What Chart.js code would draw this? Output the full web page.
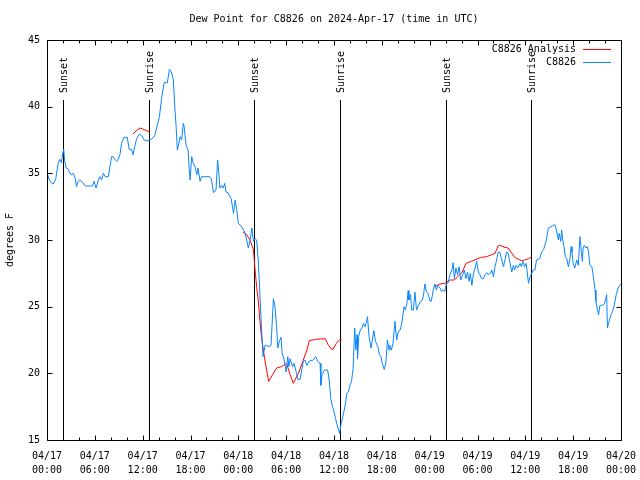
<!DOCTYPE html>
<html>
<head>
<meta charset="utf-8">
<title>Dew Point for C8826</title>
<script src="https://cdn.jsdelivr.net/npm/chart.js@4.4.0/dist/chart.umd.min.js"></script>
<style>
	html, body { margin: 0; padding: 0; background: #fff; }
</style>
</head>
<body>
<canvas id="chart1" width="640" height="480"></canvas>
<script>
"use strict";

// hours since 04/17 00:00 UTC, and dew point (F) of the station obs
var obsHours = [
	0.0, 0.3, 0.6, 0.8, 1.1, 1.4, 1.6, 1.8, 1.97, 2.1,
	2.2, 2.4, 2.7, 2.85, 3.1, 3.3, 3.5, 3.7, 3.9, 4.1,
	4.5, 4.8, 5.2, 5.7, 5.9, 6.15, 6.45, 6.65, 6.85, 7.07,
	7.3, 7.7, 7.9, 8.1, 8.3, 8.5, 8.75, 8.95, 9.15, 9.35,
	9.65, 10.07, 10.3, 10.6, 10.8, 11.0, 11.25, 11.6, 11.9, 12.2,
	12.4, 12.7, 13.1, 13.5, 13.8, 14.1, 14.4, 14.7, 15.1, 15.35,
	15.6, 15.85, 16.05, 16.2, 16.35, 16.5, 16.7, 16.9, 17.1, 17.2,
	17.45, 17.7, 17.85, 17.95, 18.15, 18.35, 18.55, 18.8, 18.95, 19.2,
	19.4, 19.7, 20.4, 20.6, 20.9, 21.2, 21.4, 21.55, 21.7, 21.9,
	22.1, 22.3, 22.45, 22.7, 22.95, 23.1, 23.4, 23.6, 23.8, 24.0,
	24.4, 24.8, 25.05, 25.25, 25.45, 25.7, 25.9, 26.1, 26.3, 26.5,
	26.7, 26.9, 27.1, 27.35, 27.55, 27.85, 28.1, 28.4, 28.6, 28.8,
	28.95, 29.1, 29.35, 29.5, 29.75, 30.0, 30.2, 30.35, 30.5, 30.8,
	31.0, 31.3, 31.45, 31.75, 31.95, 32.15, 32.35, 32.6, 32.85, 33.4,
	33.7, 33.95, 34.25, 34.35, 34.5, 34.8, 35.2, 35.4, 35.6, 35.8,
	35.95, 36.2, 36.4, 36.7, 36.9, 37.1, 37.2, 37.45, 37.6, 37.8,
	38.0, 38.2, 38.4, 38.6, 38.75, 38.9, 38.95, 39.1, 39.3, 39.5,
	39.7, 39.9, 40.1, 40.2, 40.4, 40.65, 40.8, 41.0, 41.2, 41.5,
	41.7, 41.9, 42.05, 42.3, 42.5, 42.7, 42.9, 43.0, 43.2, 43.4,
	43.65, 43.85, 44.05, 44.3, 44.5, 44.7, 44.8, 44.95, 45.15, 45.3,
	45.4, 45.6, 45.75, 45.95, 46.15, 46.35, 46.6, 46.8, 47.1, 47.25,
	47.4, 47.6, 47.8, 48.05, 48.2, 48.45, 48.65, 48.85, 49.0, 49.3,
	49.5, 49.7, 49.9, 50.1, 50.3, 50.55, 50.8, 50.95, 51.1, 51.3,
	51.5, 51.7, 51.9, 52.2, 52.35, 52.55, 52.75, 52.95, 53.1, 53.3,
	53.5, 53.7, 53.9, 54.1, 54.3, 54.5, 54.75, 54.95, 55.15, 55.35,
	55.6, 55.8, 56.0, 56.2, 56.4, 56.6, 56.8, 57.0, 57.25, 57.45,
	57.65, 57.85, 58.0, 58.3, 58.5, 58.65, 58.85, 59.05, 59.35, 59.5,
	59.7, 59.9, 60.1, 60.4, 60.6, 60.8, 61.0, 61.2, 61.4, 61.8,
	62.05, 62.3, 62.6, 62.9, 63.2, 63.5, 63.7, 63.9, 64.15, 64.25,
	64.45, 64.55, 64.7, 64.85, 65.0, 65.2, 65.4, 65.6, 65.75, 65.85,
	66.0, 66.2, 66.45, 66.65, 66.85, 66.95, 67.15, 67.25, 67.4, 67.6,
	67.8, 67.95, 68.1, 68.35, 68.5, 68.75, 68.85, 69.05, 69.2, 69.35,
	69.55, 69.85, 70.1, 70.2, 70.3, 70.5, 70.75, 70.95, 71.15, 71.4,
	71.65, 71.85, 72.0
];
var obsDew = [
	35.05, 34.5, 34.25, 34.2, 34.6, 35.75, 36.05, 35.8, 36.5, 36.8,
	36.0, 35.4, 35.3, 35.0, 34.9, 35.0, 34.7, 34.0, 34.4, 34.5,
	34.3, 34.05, 34.05, 34.05, 34.4, 33.9, 34.5, 34.75, 34.5, 35.0,
	34.75, 34.75, 35.5, 36.25, 36.25, 36.05, 35.9, 36.1, 36.4, 37.25,
	37.7, 37.7, 36.8, 36.8, 36.4, 37.0, 37.6, 37.95, 37.8, 37.5,
	37.45, 37.45, 37.55, 37.8, 38.5, 39.25, 40.75, 41.8, 41.8, 42.8,
	42.6, 42.0, 39.75, 38.5, 36.75, 37.1, 37.75, 37.5, 38.75, 38.5,
	37.1, 36.75, 35.25, 34.5, 36.25, 35.75, 35.5, 34.9, 35.4, 34.4,
	34.75, 34.75, 34.75, 34.6, 33.55, 33.75, 36.0, 35.0, 33.9, 34.1,
	33.9, 34.25, 33.6, 33.55, 33.25, 33.1, 32.0, 33.0, 32.3, 31.25,
	31.0, 30.6, 30.0, 29.4, 29.9, 30.9, 29.9, 30.1, 30.0, 28.5,
	26.0, 23.5, 21.25, 22.1, 22.1, 22.0, 22.1, 25.6, 25.0, 23.5,
	21.9, 22.3, 22.7, 21.5, 21.0, 20.1, 21.25, 20.5, 21.1, 20.5,
	20.75, 20.0, 19.55, 19.55, 20.25, 20.9, 21.0, 20.6, 20.9, 21.0,
	21.25, 20.9, 20.75, 19.1, 19.9, 20.25, 20.25, 19.5, 18.1, 17.5,
	17.25, 16.6, 16.1, 15.5, 16.25, 16.75, 17.0, 17.75, 18.5, 18.6,
	19.1, 19.4, 20.4, 23.4, 21.75, 22.9, 21.1, 22.75, 23.25, 23.4,
	23.75, 23.5, 23.9, 24.25, 22.75, 21.9, 22.5, 23.2, 22.4, 22.0,
	21.4, 21.25, 20.75, 20.3, 20.75, 22.5, 21.75, 22.1, 21.75, 22.25,
	23.9, 22.5, 23.1, 23.25, 23.75, 24.6, 25.0, 24.75, 25.25, 26.2,
	25.5, 25.9, 24.75, 24.75, 26.1, 24.75, 25.1, 25.35, 25.5, 26.0,
	26.7, 26.1, 26.0, 25.4, 25.4, 26.25, 26.7, 26.25, 26.6, 26.4,
	26.15, 26.25, 26.15, 26.75, 26.75, 27.4, 27.75, 28.3, 27.1, 27.9,
	27.4, 28.0, 27.0, 27.5, 27.75, 27.1, 27.6, 26.9, 27.5, 26.6,
	27.5, 27.9, 28.4, 27.6, 27.4, 27.1, 27.1, 27.4, 27.55, 27.4,
	27.5, 27.75, 27.25, 28.0, 28.5, 29.1, 29.1, 28.6, 28.0, 28.5,
	29.1, 29.0, 28.5, 27.6, 28.1, 27.75, 28.1, 27.9, 28.25, 28.0,
	28.4, 28.0, 28.25, 26.75, 27.25, 27.5, 27.75, 27.75, 28.5, 28.6,
	29.1, 29.3, 29.9, 30.9, 31.0, 31.1, 31.15, 30.75, 30.0, 30.5,
	29.9, 30.75, 30.0, 29.5, 28.75, 28.6, 28.0, 28.6, 29.5, 29.1,
	28.25, 27.9, 28.5, 28.1, 30.25, 29.6, 28.4, 29.4, 29.6, 29.4,
	29.5, 29.0, 28.1, 28.0, 27.4, 26.25, 25.4, 24.75, 24.4, 25.1,
	25.1, 25.15, 25.6, 25.9, 23.4, 23.9, 24.4, 24.65, 25.1, 25.9,
	26.4, 26.6, 26.7
];

// analysis (null = gap)
var anaHours = [
	10.8, 11.2, 11.7, 12.3, 12.9, 18.0,
	24.6, 25.05, 25.5, 25.9, 26.1, 26.3, 26.5, 26.7, 26.9, 27.2,
	27.4, 27.8, 28.2, 28.8, 29.4, 30.05, 30.5, 30.9, 31.6, 32.15,
	32.6, 32.9, 33.7, 34.9, 35.3, 35.8, 36.3, 36.75, 36.95, 42.0,
	48.6, 49.3, 49.9, 50.55, 51.1, 51.6, 52.1, 52.55, 53.25, 53.8,
	54.5, 55.15, 55.8, 56.2, 56.6, 56.8, 57.45, 57.85, 58.3, 58.65,
	59.5, 59.9, 60.4, 60.8
];
var anaDew = [
	37.95, 38.2, 38.4, 38.25, 38.1, null,
	30.6, 30.4, 29.95, 29.25, 27.75, 26.5, 25.5, 24.0, 22.75, 21.5,
	20.75, 19.4, 19.8, 20.4, 20.5, 20.75, 19.9, 19.25, 20.1, 21.0,
	21.75, 22.45, 22.55, 22.6, 22.1, 21.75, 22.25, 22.55, 22.55, null,
	26.5, 26.7, 26.75, 27.0, 27.0, 27.3, 27.6, 28.25, 28.4, 28.55,
	28.7, 28.75, 28.9, 29.0, 29.55, 29.6, 29.45, 29.4, 29.0, 28.7,
	28.45, 28.5, 28.6, 28.75
];

var sunHours = [1.95, 12.75, 26.0, 36.8, 50.1, 60.7];
var sunLabels = ["Sunset", "Sunrise", "Sunset", "Sunrise", "Sunset", "Sunrise"];

var xTickLabels = [
	["04/17", "00:00"], ["04/17", "06:00"], ["04/17", "12:00"], ["04/17", "18:00"],
	["04/18", "00:00"], ["04/18", "06:00"], ["04/18", "12:00"], ["04/18", "18:00"],
	["04/19", "00:00"], ["04/19", "06:00"], ["04/19", "12:00"], ["04/19", "18:00"],
	["04/20", "00:00"]
];
var yTicks = [15, 20, 25, 30, 35, 40, 45];

var FONT = "10px 'DejaVu Sans Mono', monospace";
var BLUE = "#0a84ff";
var RED = "#ff0000";

function toPoints(xs, ys) {
	return xs.map(function (h, i) { return { x: h, y: ys[i] }; });
}

// gnuplot look: border, inward ticks, sun lines, key
var gnuplotLook = {
	id: "gnuplotLook",
	beforeDatasetsDraw: function (chart) {
		var ctx = chart.ctx, a = chart.chartArea, sx = chart.scales.x;
		var top = a.bottom - 0.85 * (a.bottom - a.top);
		ctx.save();
		ctx.strokeStyle = "#000";
		ctx.fillStyle = "#000";
		ctx.lineWidth = 1;
		ctx.font = FONT;
		sunHours.forEach(function (h, i) {
			var px = Math.round(sx.getPixelForValue(h)) + 0.5;
			ctx.beginPath();
			ctx.moveTo(px, a.bottom);
			ctx.lineTo(px, top);
			ctx.stroke();
			ctx.save();
			ctx.translate(px + 1, top - 7);
			ctx.rotate(-Math.PI / 2);
			ctx.textAlign = "left";
			ctx.textBaseline = "middle";
			ctx.fillText(sunLabels[i], 0, 0);
			ctx.restore();
		});
		ctx.restore();
	},
	afterDatasetsDraw: function (chart) {
		var ctx = chart.ctx, a = chart.chartArea, sx = chart.scales.x, sy = chart.scales.y;
		var l = Math.round(a.left) + 0.5, r = Math.round(a.right) + 0.5;
		var t = Math.round(a.top) + 0.5, b = Math.round(a.bottom) + 0.5;
		ctx.save();
		ctx.strokeStyle = "#000";
		ctx.lineWidth = 1;
		ctx.beginPath();
		sx.ticks.forEach(function (tk) {
			var px = Math.round(sx.getPixelForValue(tk.value)) + 0.5;
			var len = tk.value % 6 === 0 ? 5 : 3;
			ctx.moveTo(px, b); ctx.lineTo(px, b - len);
			ctx.moveTo(px, t); ctx.lineTo(px, t + len);
		});
		yTicks.forEach(function (v) {
			var py = Math.round(sy.getPixelForValue(v)) + 0.5;
			ctx.moveTo(l, py); ctx.lineTo(l + 5, py);
			ctx.moveTo(r, py); ctx.lineTo(r - 5, py);
		});
		ctx.rect(l, t, r - l, b - t);
		ctx.stroke();

		// key
		ctx.font = FONT;
		ctx.fillStyle = "#000";
		ctx.textAlign = "right";
		ctx.textBaseline = "middle";
		ctx.fillText("C8826 Analysis", 576, 49);
		ctx.fillText("C8826", 576, 62);
		ctx.strokeStyle = RED;
		ctx.beginPath(); ctx.moveTo(583, 49.5); ctx.lineTo(611, 49.5); ctx.stroke();
		ctx.strokeStyle = BLUE;
		ctx.beginPath(); ctx.moveTo(583, 62.5); ctx.lineTo(611, 62.5); ctx.stroke();
		ctx.restore();
	}
};

var options1 = {
	type: "line",
	data: {
		datasets: [{
			label: "C8826",
			data: toPoints(obsHours, obsDew),
			borderColor: BLUE,
			borderWidth: 1,
			pointRadius: 0,
			tension: 0
		}, {
			label: "C8826 Analysis",
			data: toPoints(anaHours, anaDew),
			borderColor: RED,
			borderWidth: 1,
			pointRadius: 0,
			tension: 0,
			spanGaps: false
		}]
	},
	options: {
		responsive: false,
		animation: false,
		layout: { padding: { left: 0, right: 19, top: 0, bottom: 0 } },
		plugins: {
			legend: { display: false },
			tooltip: { enabled: false },
			title: {
				display: true,
				text: "Dew Point for C8826 on 2024-Apr-17 (time in UTC)",
				fullSize: false,
				color: "#000",
				font: { family: "'DejaVu Sans Mono', monospace", size: 10, weight: "normal", lineHeight: 1.2 },
				padding: { top: 13, bottom: 15 }
			}
		},
		scales: {
			x: {
				type: "linear",
				min: 0,
				max: 72,
				grid: { display: false, drawTicks: false },
				border: { display: false },
				afterFit: function (s) {
					s.height = 40;
					s.paddingLeft = 0;
					s.paddingRight = 0;
				},
				ticks: {
					stepSize: 2,
					autoSkip: false,
					maxRotation: 0,
					minRotation: 0,
					padding: 9,
					color: "#000",
					font: { family: "'DejaVu Sans Mono', monospace", size: 10, lineHeight: 1.4 },
					callback: function (v) { return v % 6 === 0 ? xTickLabels[v / 6] : ""; }
				}
			},
			y: {
				min: 15,
				max: 45,
				grid: { display: false, drawTicks: false },
				border: { display: false },
				afterFit: function (s) { s.width = 47; },
				title: {
					display: true,
					text: "degrees F",
					color: "#000",
					font: { family: "'DejaVu Sans Mono', monospace", size: 10 },
					padding: { top: 4, bottom: 4 }
				},
				ticks: {
					stepSize: 5,
					padding: 7,
					color: "#000",
					font: { family: "'DejaVu Sans Mono', monospace", size: 10 }
				}
			}
		}
	},
	plugins: [gnuplotLook]
};
if (document.querySelector("#chart1")) new Chart(document.querySelector("#chart1"), options1);
</script>
</body>
</html>
